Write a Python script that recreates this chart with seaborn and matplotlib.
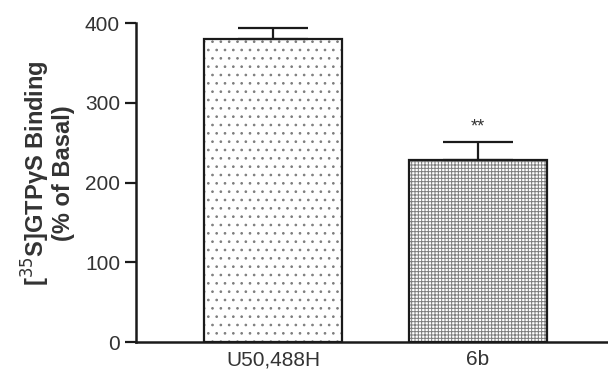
import matplotlib
matplotlib.use("Agg")
import matplotlib.pyplot as plt
import seaborn as sns
import pandas as pd

compounds = ["U50,488H", "6b"]
binding = [380, 228]
sem = [14, 23]
stars = ["", "**"]
hatches = ["..", "+++++"]

sns.set_style("ticks")
plt.rcParams["font.family"] = ["Liberation Sans", "DejaVu Sans"]
plt.rcParams["hatch.linewidth"] = 0.7

df = pd.DataFrame({"compound": compounds, "binding": binding})

fig = plt.figure(figsize=(6.08, 3.77), dpi=100)
ax = fig.add_axes([0.2237, 0.0928, 0.7763, 0.846])

# hatched fill
sns.barplot(data=df, x="compound", y="binding", color="white", width=0.673,
            edgecolor="#7d7d7d", linewidth=0, errorbar=None, ax=ax)
for p, h in zip(ax.patches, hatches):
    p.set_hatch(h)
# black outline on top
sns.barplot(data=df, x="compound", y="binding", fill=False, width=0.673,
            edgecolor="#1a1a1a", linewidth=1.6, errorbar=None, ax=ax)

# SEM bars, upward only
ax.errorbar(range(len(compounds)), binding, yerr=[[0] * len(sem), sem], fmt="none",
            ecolor="#1a1a1a", elinewidth=1.6, capsize=25, capthick=1.6, zorder=3)
for i, (b, s, t) in enumerate(zip(binding, sem, stars)):
    if t:
        ax.text(i, b + s + 8, t, ha="center", va="bottom", fontsize=13, color="#333333")

ax.set_xlim(-0.668, 1.634)
ax.set_ylim(0, 400)
ax.set_yticks([0, 100, 200, 300, 400])
ax.set_xlabel("")
ax.set_ylabel("[$^{35}$S]GTP\u03b3S Binding\n(% of Basal)", fontsize=17,
              fontweight="bold", color="#333333", linespacing=1.0)
ax.yaxis.set_label_coords(-0.13, 0.53)
ax.tick_params(axis="y", labelsize=15, length=8, width=1.6, colors="#1a1a1a",
               labelcolor="#333333")
ax.tick_params(axis="x", labelsize=15, length=0, pad=6, labelcolor="#333333")
sns.despine(ax=ax)
ax.spines["left"].set_linewidth(1.8)
ax.spines["bottom"].set_linewidth(1.8)
ax.spines["left"].set_color("#1a1a1a")
ax.spines["bottom"].set_color("#1a1a1a")

fig.savefig("out.png", dpi=100)
